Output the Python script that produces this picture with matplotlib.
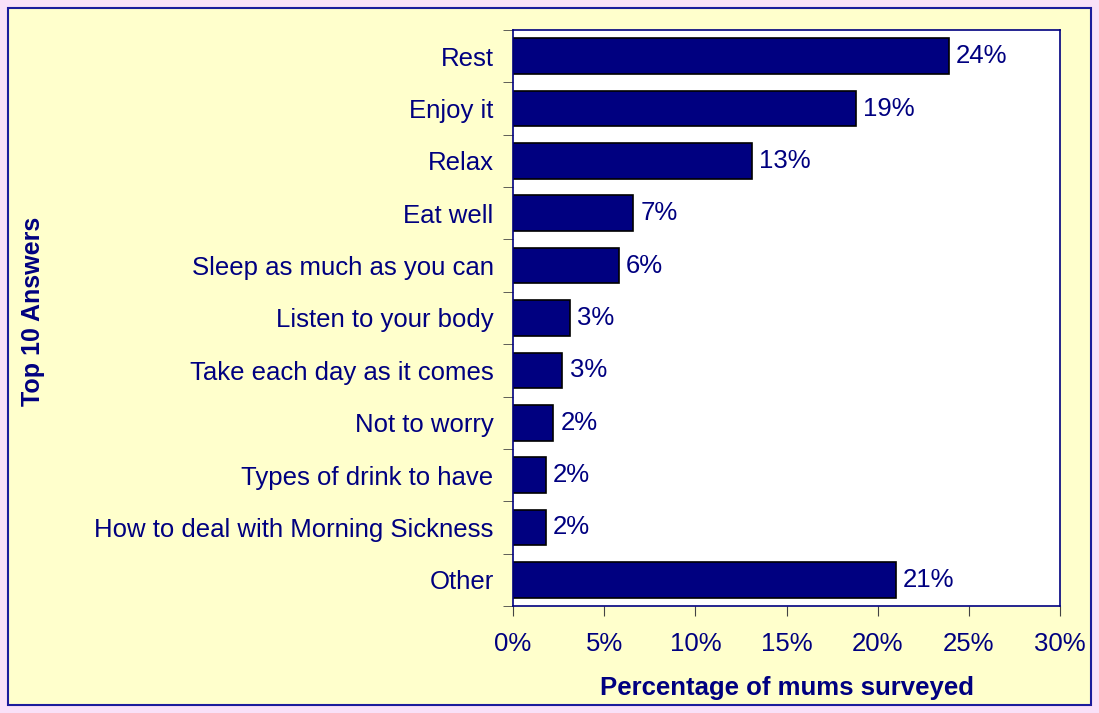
import matplotlib.pyplot as plt
from matplotlib.patches import Rectangle

plt.rcParams['font.family'] = ['Liberation Sans', 'DejaVu Sans']

answers = ['Rest', 'Enjoy it', 'Relax', 'Eat well', 'Sleep as much as you can',
           'Listen to your body', 'Take each day as it comes', 'Not to worry',
           'Types of drink to have', 'How to deal with Morning Sickness', 'Other']
percent = [23.9, 18.8, 13.1, 6.6, 5.8, 3.1, 2.7, 2.2, 1.8, 1.8, 21.0]

navy = '#000080'

fig = plt.figure(figsize=(10.99, 7.13), dpi=100)
fig.patch.set_facecolor('#F9E1F8')
# yellow chart area with navy frame
fig.patches.append(Rectangle((8 / 1099, 8 / 713), 1083 / 1099, 697 / 713,
                             transform=fig.transFigure, facecolor='#FFFFCC',
                             edgecolor='#1C1C9C', linewidth=1.5, zorder=-5))

ax = fig.add_axes([513 / 1099, 1 - 606 / 713, 547 / 1099, 576 / 713])
ax.set_facecolor('white')

ypos = list(range(len(answers)))
ax.barh(ypos, percent, height=0.68, color=navy, edgecolor='black', linewidth=1.2)
for y, v in zip(ypos, percent):
    ax.text(v + 0.4, y, f'{v:.0f}%', va='center', ha='left', fontsize=18.5, color=navy)

ax.set_xlim(0, 30)
ax.set_ylim(len(answers) - 0.5, -0.5)
ax.set_xticks(range(0, 31, 5))
ax.set_xticklabels([f'{t}%' for t in range(0, 31, 5)], fontsize=18.5, color=navy)
ax.set_yticks(ypos)
ax.set_yticklabels(answers, fontsize=18.5, color=navy)
ax.set_yticks([i - 0.5 for i in range(len(answers) + 1)], minor=True)
ax.tick_params(axis='y', which='major', length=0, pad=14)
ax.tick_params(axis='y', which='minor', length=7, direction='out', color='#444444')
ax.tick_params(axis='x', length=7, direction='out', color='#444444', pad=12)

for s in ax.spines.values():
    s.set_color(navy)
    s.set_linewidth(1.2)

ax.set_xlabel('Percentage of mums surveyed', fontsize=18.5, fontweight='bold',
              color=navy, labelpad=14)
fig.text(33 / 1099, 1 - 311 / 713, 'Top 10 Answers', rotation=90, fontsize=18,
         fontweight='bold', color=navy, ha='center', va='center')

fig.savefig('out.png', dpi=100, facecolor=fig.get_facecolor())
